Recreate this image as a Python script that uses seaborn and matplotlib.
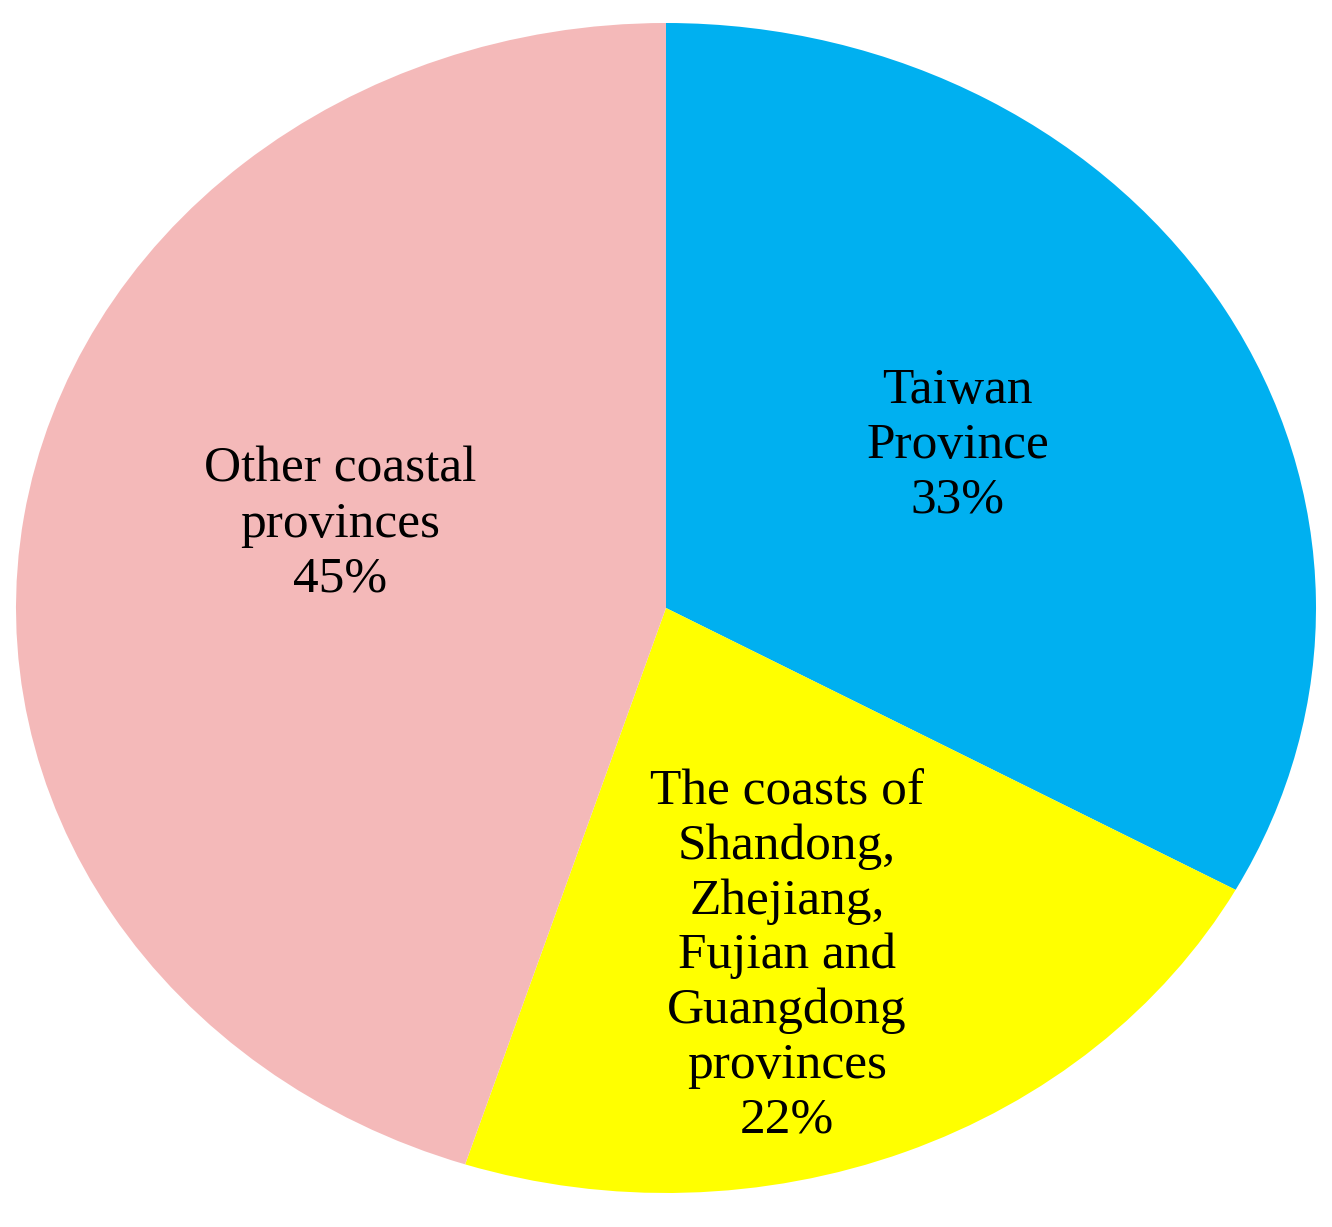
import matplotlib
matplotlib.use("Agg")
import matplotlib.pyplot as plt
import seaborn as sns

#%% data
regions = ["Taiwan\nProvince", "The coasts of\nShandong,\nZhejiang,\nFujian and\nGuangdong\nprovinces", "Other coastal\nprovinces"]
shares  = [33, 22, 45]
colors  = ["#00B0F0", "#FFFF00", "#F4B9B9"]

# label centres in pie data units (x, y)
lab_pos = [(0.449, 0.278), (0.186, -0.595), (-0.502, 0.143)]

#%% style
sns.set_theme(style="white")
plt.rcParams['font.family'] = ['Liberation Serif', 'DejaVu Serif']

W, H = 1332, 1227
fig = plt.figure(figsize=(W/100, H/100), dpi=100)
# axes box matches the elliptical pie extent
ax = fig.add_axes([16/W, (H-1193)/H, 1300/W, 1170/H])

wedges, _ = ax.pie(shares, colors=colors, startangle=90, counterclock=False,
                   radius=1, wedgeprops=dict(linewidth=0))
ax.set_aspect('auto')
ax.set_xlim(-1, 1)
ax.set_ylim(-1, 1)
ax.axis('off')

for k in range(len(regions)):
    ax.text(lab_pos[k][0], lab_pos[k][1], regions[k] + "\n%d%%" % shares[k],
            ha='center', va='center', fontsize=37, color='black',
            linespacing=1.23)

plt.savefig("out.png", dpi=100)
plt.close()
